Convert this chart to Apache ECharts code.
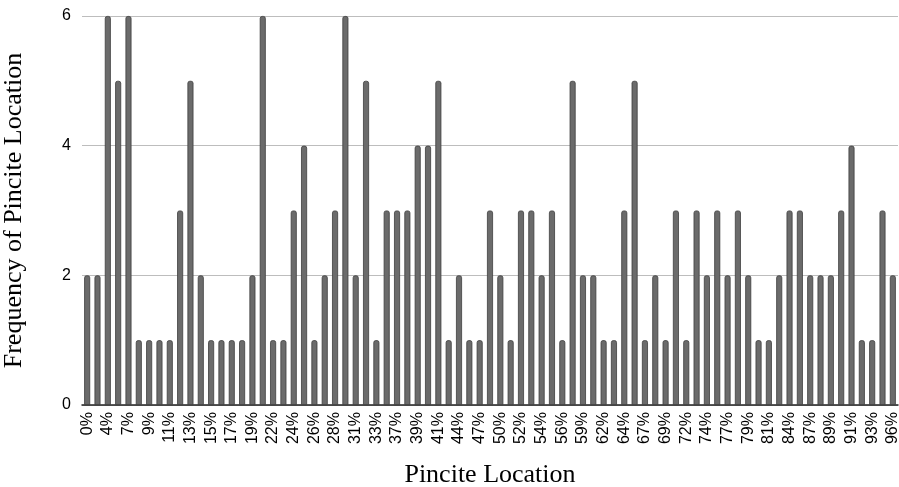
<!DOCTYPE html>
<html>
<head>
<meta charset="utf-8">
<script src="https://cdn.jsdelivr.net/npm/echarts@6/dist/echarts.min.js"></script>
<style>
  html, body { margin: 0; padding: 0; background: #fff; }
  #chart { width: 899px; height: 487px; }
</style>
</head>
<body>
<div id="chart"></div>
<script>
// Pincite location buckets (every other one is labelled on the axis)
const categories = [
  '0%', '2%', '4%', '5%', '7%', '8%', '9%', '10%', '11%', '12%',
  '13%', '14%', '15%', '16%', '17%', '18%', '19%', '21%', '22%', '23%',
  '24%', '25%', '26%', '27%', '28%', '29%', '31%', '32%', '33%', '35%',
  '37%', '38%', '39%', '40%', '41%', '43%', '44%', '45%', '47%', '48%',
  '50%', '51%', '52%', '53%', '54%', '55%', '56%', '58%', '59%', '60%',
  '62%', '63%', '64%', '65%', '67%', '68%', '69%', '70%', '72%', '73%',
  '74%', '75%', '77%', '78%', '79%', '80%', '81%', '83%', '84%', '85%',
  '87%', '88%', '89%', '90%', '91%', '92%', '93%', '95%', '96%'
];

// How often each pincite location occurs
const frequency = [
  2, 2, 6, 5, 6, 1, 1, 1, 1, 3,
  5, 2, 1, 1, 1, 1, 2, 6, 1, 1,
  3, 4, 1, 2, 3, 6, 2, 5, 1, 3,
  3, 3, 4, 4, 5, 1, 2, 1, 1, 3,
  2, 1, 3, 3, 2, 3, 1, 5, 2, 2,
  1, 1, 3, 5, 1, 2, 1, 3, 1, 3,
  2, 3, 2, 3, 2, 1, 1, 2, 3, 3,
  2, 2, 2, 3, 4, 1, 1, 3, 2
];

const yTicks = [0, 2, 4, 6];

const chart = echarts.init(document.getElementById('chart'), null, { renderer: 'canvas' });

chart.setOption({
  animation: false,
  backgroundColor: '#ffffff',
  grid: {
    left: 82, right: 1, top: 16, bottom: 82,
    containLabel: false,
    outerBoundsMode: 'none'
  },
  xAxis: {
    type: 'category',
    data: categories,
    name: 'Pincite Location',
    nameLocation: 'middle',
    nameGap: 57,
    nameTextStyle: { fontFamily: 'Liberation Serif', fontSize: 26, color: '#000' },
    axisLine: { show: true, lineStyle: { color: '#222', width: 1.5 } },
    axisTick: { show: false },
    axisLabel: {
      interval: 1,
      rotate: 90,
      margin: 7,
      fontFamily: 'Liberation Sans',
      fontSize: 16,
      color: '#000'
    }
  },
  yAxis: {
    type: 'value',
    min: yTicks[0],
    max: yTicks[yTicks.length - 1],
    interval: 2,
    name: 'Frequency of Pincite Location',
    nameLocation: 'middle',
    nameGap: 55,
    nameTextStyle: { fontFamily: 'Liberation Serif', fontSize: 26, color: '#000' },
    axisLine: { show: false },
    axisTick: { show: false },
    axisLabel: {
      margin: 11,
      fontFamily: 'Liberation Sans',
      fontSize: 16,
      color: '#000'
    },
    splitLine: { show: true, lineStyle: { color: '#bdbdbd', width: 1 } }
  },
  series: [{
    type: 'bar',
    data: frequency,
    barWidth: 6,
    itemStyle: {
      color: '#6b6b6b',
      borderColor: '#3e3e3e',
      borderWidth: 0.8,
      borderRadius: [2, 2, 0, 0]
    }
  }]
});
</script>
</body>
</html>
